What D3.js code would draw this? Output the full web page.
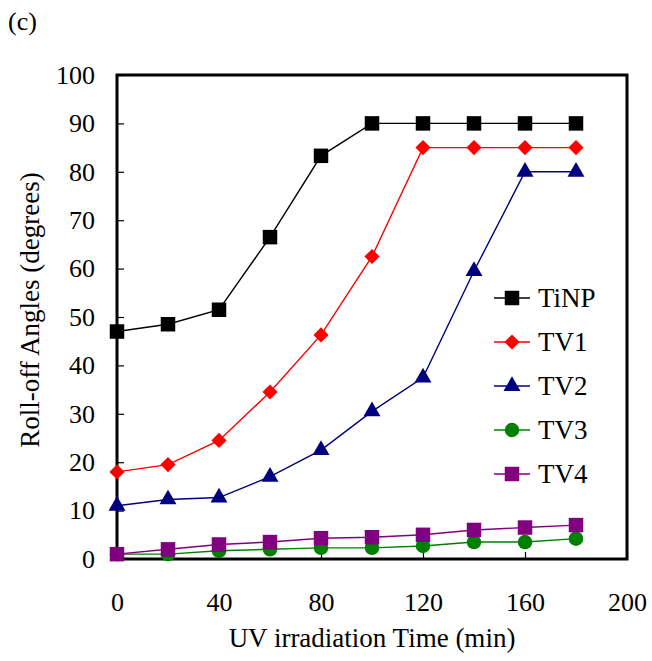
<!DOCTYPE html>
<html>
<head>
<meta charset="utf-8">
<script src="https://cdn.jsdelivr.net/npm/d3@7"></script>
<style>
  body { margin: 0; background: #fff; }
  text { font-family: "Liberation Serif", "Times New Roman", serif; }
</style>
</head>
<body>
<div id="chart"></div>
<script>
// data
const times = [0, 20, 40, 60, 80, 100, 120, 140, 160, 180];
const tinp = [47, 48.5, 51.5, 66.5, 83.3, 90, 90, 90, 90, 90];
const tv1 = [18, 19.5, 24.5, 34.5, 46.3, 62.5, 85, 85, 85, 85];
const tv2 = [11, 12.3, 12.7, 17, 22.5, 30.5, 37.5, 59.5, 80, 80];
const tv3 = [1, 1, 1.7, 2, 2.3, 2.3, 2.7, 3.5, 3.5, 4.2];
const tv4 = [1, 2, 3, 3.5, 4.3, 4.5, 5, 6, 6.5, 7];
const seriesNames = ["TiNP", "TV1", "TV2", "TV3", "TV4"];
const xTicks = [0, 40, 80, 120, 160, 200];
const yTicks = [0, 10, 20, 30, 40, 50, 60, 70, 80, 90, 100];

const series = [
  { name: seriesNames[0], values: tinp, color: "#000000", symbol: d3.symbolSquare, size: 210, rot: 0 },
  { name: seriesNames[1], values: tv1, color: "#ff0000", symbol: d3.symbolSquare, size: 115, rot: 45 },
  { name: seriesNames[2], values: tv2, color: "#000080", symbol: d3.symbolTriangle, size: 125, rot: 0 },
  { name: seriesNames[3], values: tv3, color: "#008000", symbol: d3.symbolCircle, size: 165, rot: 0 },
  { name: seriesNames[4], values: tv4, color: "#800080", symbol: d3.symbolSquare, size: 210, rot: 0 }
];
const lineColors = ["#000000", "#ff0000", "#000080", "#008000", "#800080"];

const W = 652, H = 661;
const margin = { top: 75, right: 25, bottom: 102, left: 117 };
const width = W - margin.left - margin.right,
    height = H - margin.top - margin.bottom;

const svg = d3.select("#chart")
    .append("svg")
    .attr("width", W)
    .attr("height", H);

const g = svg.append("g")
    .attr("transform", `translate(${margin.left}, ${margin.top})`);

const x = d3.scaleLinear().domain([0, 200]).range([0, width]);
const y = d3.scaleLinear().domain([0, 100]).range([height, 0]);

// axes with inward ticks
const xAxis = g.append("g")
    .attr("transform", `translate(0, ${height})`)
    .call(d3.axisBottom(x).tickValues(xTicks).tickSizeInner(-7).tickSizeOuter(0).tickPadding(34));
const yAxis = g.append("g")
    .call(d3.axisLeft(y).tickValues(yTicks).tickSizeInner(-7).tickSizeOuter(0).tickPadding(22));

[xAxis, yAxis].forEach(a => {
  a.select(".domain").remove();
  a.selectAll(".tick line").attr("stroke", "#000").attr("stroke-width", 1.2);
  a.selectAll(".tick text").attr("font-size", 26).attr("fill", "#000")
    .style("font-family", "'Liberation Serif', serif");
});
xAxis.selectAll(".tick text").attr("dy", "0.71em");

// frame
g.append("rect")
    .attr("width", width).attr("height", height)
    .attr("fill", "none").attr("stroke", "#000").attr("stroke-width", 3);

const line = d3.line()
    .x((d, i) => x(times[i]))
    .y(d => y(d));

series.forEach((s, k) => {
  g.append("path")
      .datum(s.values)
      .attr("fill", "none")
      .attr("stroke", lineColors[k])
      .attr("stroke-width", 1.4)
      .attr("d", line);
});
series.forEach(s => {
  g.append("g").selectAll("path")
      .data(s.values)
      .join("path")
      .attr("transform", (d, i) => `translate(${x(times[i])}, ${y(d)}) rotate(${s.rot})`)
      .attr("d", d3.symbol().type(s.symbol).size(s.size))
      .attr("fill", s.color);
});

// legend
const legend = svg.append("g").attr("transform", "translate(494, 298)");
series.forEach((s, k) => {
  const row = legend.append("g").attr("transform", `translate(0, ${k * 44})`);
  row.append("line").attr("x1", 0).attr("x2", 36)
      .attr("stroke", lineColors[k]).attr("stroke-width", 1.4);
  row.append("path")
      .attr("transform", `translate(18, 0) rotate(${s.rot})`)
      .attr("d", d3.symbol().type(s.symbol).size(s.size))
      .attr("fill", s.color);
  row.append("text").attr("x", 44).attr("y", 9)
      .attr("font-size", 27).text(s.name);
});

// axis titles
svg.append("text")
    .attr("x", margin.left + width / 2).attr("y", 647)
    .attr("text-anchor", "middle").attr("font-size", 27)
    .text("UV irradiation Time (min)");
svg.append("text")
    .attr("transform", `translate(39, 310) rotate(-90)`)
    .attr("text-anchor", "middle").attr("font-size", 27)
    .text("Roll-off Angles (degrees)");

svg.append("text")
    .attr("x", 8).attr("y", 30).attr("font-size", 26).text("(c)");
</script>
</body>
</html>
